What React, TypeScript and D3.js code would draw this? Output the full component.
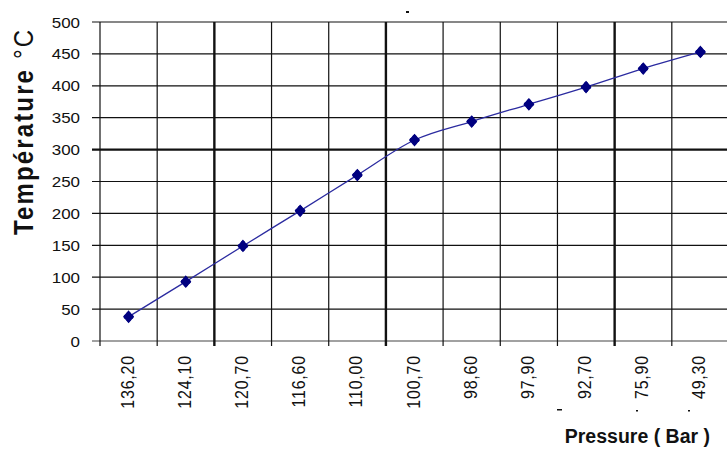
import React from "react";
import * as d3 from "d3";

const categories = ["136,20", "124,10", "120,70", "116,60", "110,00", "100,70", "98,60", "97,90", "92,70", "75,90", "49,30"];
const temperatures = [38, 93, 149, 204, 260, 315, 344, 371, 398, 427, 453];
const yTicks = [0, 50, 100, 150, 200, 250, 300, 350, 400, 450, 500];
const thickY = [300];
const thickXIdx = [2, 5, 9];

const W = 727;
const H = 450;
const left = 100;
const right = 729;
const top = 22;
const bottom = 341;

export default function App() {
  const x = d3.scaleBand<string>().domain(categories).range([left, right]).padding(0);
  const y = d3.scaleLinear().domain([0, 500]).range([bottom, top]);
  const bw = x.bandwidth();
  const pts: [number, number][] = temperatures.map((v, i) => [x(categories[i])! + bw / 2, y(v)]);
  const line = d3.line<[number, number]>().x((d) => d[0]).y((d) => d[1]).curve(d3.curveMonotoneX);
  const diamond = d3.symbol().type(d3.symbolDiamond).size(36)()!;
  const cross = d3.symbol().type(d3.symbolCross).size(40)()!;
  const font = "'Liberation Sans', Arial, sans-serif";

  return (
    <svg width={W} height={H} style={{ position: "absolute", left: 0, top: 0, background: "#fff" }}>
      {yTicks.map((t) => (
        <line key={"h" + t} x1={92} x2={W} y1={y(t)} y2={y(t)}
          stroke={t === 0 ? "#444" : "#111"} strokeWidth={thickY.includes(t) ? 2.4 : 1.2} />
      ))}
      {categories.map((c, i) => (
        <line key={"v" + c} x1={x(c)!} x2={x(c)!} y1={top} y2={bottom + 5}
          stroke="#111" strokeWidth={thickXIdx.includes(i) ? 2.4 : 1.2} />
      ))}
      {yTicks.map((t) => (
        <text key={"yl" + t} transform={`translate(80,${y(t) + 5.5}) scale(1.17,1)`}
          textAnchor="end" fontFamily={font} fontSize={14.5} fill="#111">{t}</text>
      ))}
      {categories.map((c) => (
        <text key={"xl" + c}
          transform={`translate(${x(c)! + bw / 2 + 5},355) scale(1.13,1) rotate(-90)`}
          textAnchor="end" fontFamily={font} fontSize={16} letterSpacing={0.8} fill="#111">{c}</text>
      ))}
      <path d={line(pts)!} fill="none" stroke="#2b2ba0" strokeWidth={1.3} />
      {pts.map((p, i) => (
        <g key={"m" + i} transform={`translate(${p[0]},${p[1]})`} fill="#000080" stroke="#000080" strokeWidth={0.8}>
          <path d={diamond} transform="scale(1.5,1)" />
          <path d={cross} />
        </g>
      ))}
      <text transform={`translate(33,235) scale(1.17,1) rotate(-90)`} fontFamily={font} fontSize={24}
        textLength={205} lengthAdjust="spacing" fill="#111">
        <tspan fontWeight="bold">Température</tspan>
        <tspan> °C</tspan>
      </text>
      <text x={710} y={443} textAnchor="end" fontFamily={font} fontSize={19.5} fontWeight="bold" fill="#111">Pressure ( Bar )</text>
      <rect x={406} y={11} width={3} height={2} fill="#111" />
      <rect x={557} y={409} width={5} height={1.5} fill="#111" />
      <rect x={636} y={410} width={2} height={1.5} fill="#111" />
      <rect x={688} y={410} width={2} height={1.5} fill="#111" />
    </svg>
  );
}
